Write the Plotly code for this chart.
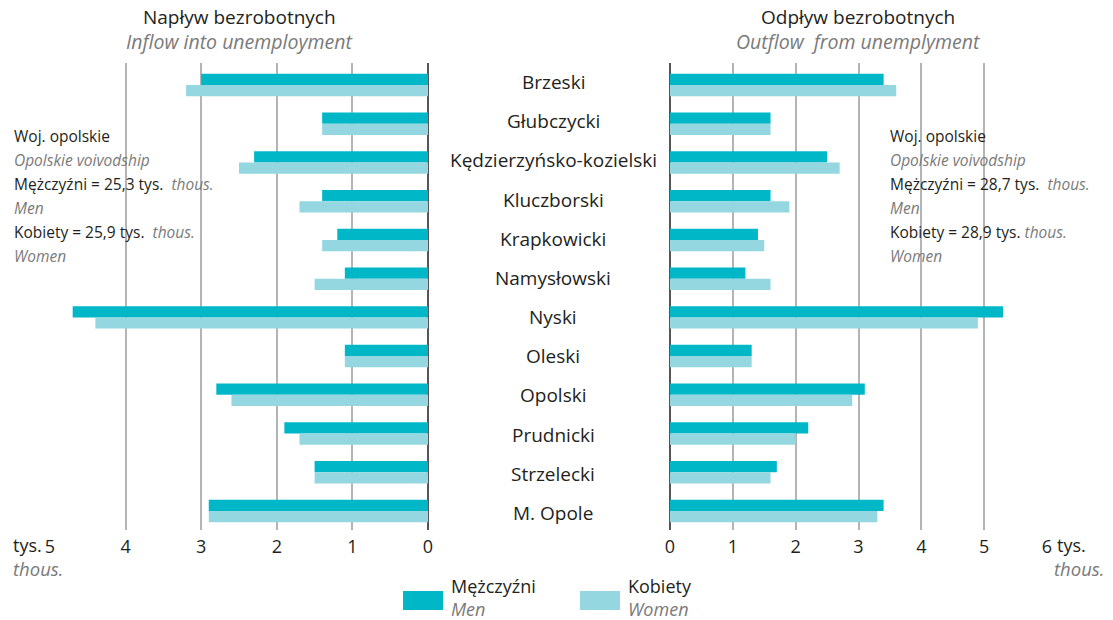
import plotly.graph_objects as go

categories = ["Brzeski", "Głubczycki", "Kędzierzyńsko-kozielski", "Kluczborski", "Krapkowicki",
              "Namysłowski", "Nyski", "Oleski", "Opolski", "Prudnicki", "Strzelecki", "M. Opole"]
inflow_men = [3.0, 1.4, 2.3, 1.4, 1.2, 1.1, 4.7, 1.1, 2.8, 1.9, 1.5, 2.9]
inflow_women = [3.2, 1.4, 2.5, 1.7, 1.4, 1.5, 4.4, 1.1, 2.6, 1.7, 1.5, 2.9]
outflow_men = [3.4, 1.6, 2.5, 1.6, 1.4, 1.2, 5.3, 1.3, 3.1, 2.2, 1.7, 3.4]
outflow_women = [3.6, 1.6, 2.7, 1.9, 1.5, 1.6, 4.9, 1.3, 2.9, 2.0, 1.6, 3.3]
left_ticks = [0, 1, 2, 3, 4, 5]
right_ticks = [0, 1, 2, 3, 4, 5, 6]

MEN = "#00B7C8"
WOMEN = "#94D7E0"
GRID = "#B4B4B4"
TXT = "#231F20"
GREY = "#7A7A7A"
FONT = "Open Sans"

W, H = 1113, 620
ML, MR, MT, MB = 50, 66, 63, 90
PW = W - ML - MR
PH = H - MT - MB


def px_x(x):
    return (x - ML) / PW


def px_y(y):
    return (H - MB - y) / PH


ypos = list(range(len(categories)))
bw = 0.29

fig = go.Figure()
fig.add_trace(go.Bar(y=ypos, x=inflow_men, orientation="h", xaxis="x", yaxis="y",
                     marker=dict(color=MEN, line=dict(width=0)), width=bw, offset=-bw,
                     showlegend=False, name="Mężczyźni"))
fig.add_trace(go.Bar(y=ypos, x=inflow_women, orientation="h", xaxis="x", yaxis="y",
                     marker=dict(color=WOMEN, line=dict(width=0)), width=bw, offset=0,
                     showlegend=False, name="Kobiety"))
fig.add_trace(go.Bar(y=ypos, x=outflow_men, orientation="h", xaxis="x2", yaxis="y",
                     marker=dict(color=MEN, line=dict(width=0)), width=bw, offset=-bw,
                     showlegend=False, name="Mężczyźni"))
fig.add_trace(go.Bar(y=ypos, x=outflow_women, orientation="h", xaxis="x2", yaxis="y",
                     marker=dict(color=WOMEN, line=dict(width=0)), width=bw, offset=0,
                     showlegend=False, name="Kobiety"))

axis_common = dict(showgrid=True, gridcolor=GRID, gridwidth=1.5, zeroline=True,
                   zerolinecolor="#555555", zerolinewidth=1.5, showline=False, ticks="",
                   tickfont=dict(family=FONT, size=18, color=TXT), anchor="y",
                   ticklabelstandoff=4, fixedrange=True)

fig.update_layout(
    width=W, height=H, margin=dict(l=ML, r=MR, t=MT, b=MB),
    paper_bgcolor="white", plot_bgcolor="white",
    barmode="overlay",
    xaxis=dict(domain=[0, px_x(428)], range=[5, 0], tickvals=left_ticks,
               ticktext=[str(t) for t in left_ticks], **axis_common),
    xaxis2=dict(domain=[px_x(670), 1], range=[0, 6], tickvals=right_ticks,
                ticktext=[str(t) for t in right_ticks], **axis_common),
    yaxis=dict(range=[11.49, -0.568], showgrid=False, zeroline=False, showticklabels=False,
               showline=False, fixedrange=True),
    showlegend=False,
)

ann = []
# category labels
n = len(categories)
for i, c in enumerate(categories):
    ann.append(dict(x=px_x(553), y=px_y(82 + i * (513 - 82) / (n - 1)), xref="paper", yref="paper",
                    text=c, showarrow=False, xanchor="center", yanchor="middle",
                    font=dict(family=FONT, size=19, color=TXT)))

# titles
for cx, t1, t2 in [(239, "Napływ bezrobotnych", "Inflow into unemployment"),
                   (858, "Odpływ bezrobotnych", "Outflow  from unemplyment")]:
    ann.append(dict(x=px_x(cx), y=px_y(17), xref="paper", yref="paper", text=t1,
                    showarrow=False, xanchor="center", yanchor="middle",
                    font=dict(family=FONT, size=19, color=TXT)))
    ann.append(dict(x=px_x(cx), y=px_y(41), xref="paper", yref="paper", text="<i>" + t2 + "</i>",
                    showarrow=False, xanchor="center", yanchor="middle",
                    font=dict(family=FONT, size=19.5, color=GREY)))


def th(s):
    return "<i><span style='color:%s'>%s</span></i>" % (GREY, s)


blocks = [
    (12, ["Woj. opolskie", th("Opolskie voivodship"), "Mężczyźni = 25,3 tys.  " + th("thous."),
          th("Men"), "Kobiety = 25,9 tys.  " + th("thous."), th("Women")]),
    (888, ["Woj. opolskie", th("Opolskie voivodship"), "Mężczyźni = 28,7 tys.  " + th("thous."),
           th("Men"), "Kobiety = 28,9 tys. " + th("thous."), th("Women")]),
]
for x0, lines in blocks:
    for k, ln in enumerate(lines):
        ann.append(dict(x=px_x(x0), y=px_y(136 + 24 * k), xref="paper", yref="paper", text=ln,
                        showarrow=False, xanchor="left", yanchor="middle",
                        font=dict(family=FONT, size=15.5, color=TXT)))

# axis unit labels
ann.append(dict(x=px_x(44), y=px_y(545), xref="paper", yref="paper", text="tys.", showarrow=False,
                xanchor="right", yanchor="middle", font=dict(family=FONT, size=18, color=TXT)))
ann.append(dict(x=px_x(1055), y=px_y(545), xref="paper", yref="paper", text="tys.", showarrow=False,
                xanchor="left", yanchor="middle", font=dict(family=FONT, size=18, color=TXT)))
ann.append(dict(x=px_x(11), y=px_y(568), xref="paper", yref="paper", text="<i>thous.</i>",
                showarrow=False, xanchor="left", yanchor="middle",
                font=dict(family=FONT, size=18.5, color=GREY)))
ann.append(dict(x=px_x(1106), y=px_y(568), xref="paper", yref="paper", text="<i>thous.</i>",
                showarrow=False, xanchor="right", yanchor="middle",
                font=dict(family=FONT, size=18.5, color=GREY)))

# legend
shapes = []
for sx, col, t1, t2 in [(403, MEN, "Mężczyźni", "Men"), (580, WOMEN, "Kobiety", "Women")]:
    shapes.append(dict(type="rect", xref="paper", yref="paper", x0=px_x(sx), x1=px_x(sx + 40),
                       y0=px_y(610), y1=px_y(591), fillcolor=col, line=dict(width=0)))
    ann.append(dict(x=px_x(sx + 46), y=px_y(597), xref="paper", yref="paper",
                    text=t1 + "<br>" + th(t2), align="left",
                    showarrow=False, xanchor="left", yanchor="middle",
                    font=dict(family=FONT, size=18, color=TXT)))

# white masks interrupting the gridlines behind the text blocks
for x0, x1 in [(0, 216), (884, 1075)]:
    shapes.append(dict(type="rect", xref="paper", yref="paper", x0=px_x(x0), x1=px_x(x1),
                       y0=px_y(268), y1=px_y(124), fillcolor="white", line=dict(width=0),
                       layer="between"))

fig.update_layout(annotations=ann, shapes=shapes)
fig.write_html("out.html", post_script="document.body.style.margin='0px';",
               config={"displayModeBar": False})
